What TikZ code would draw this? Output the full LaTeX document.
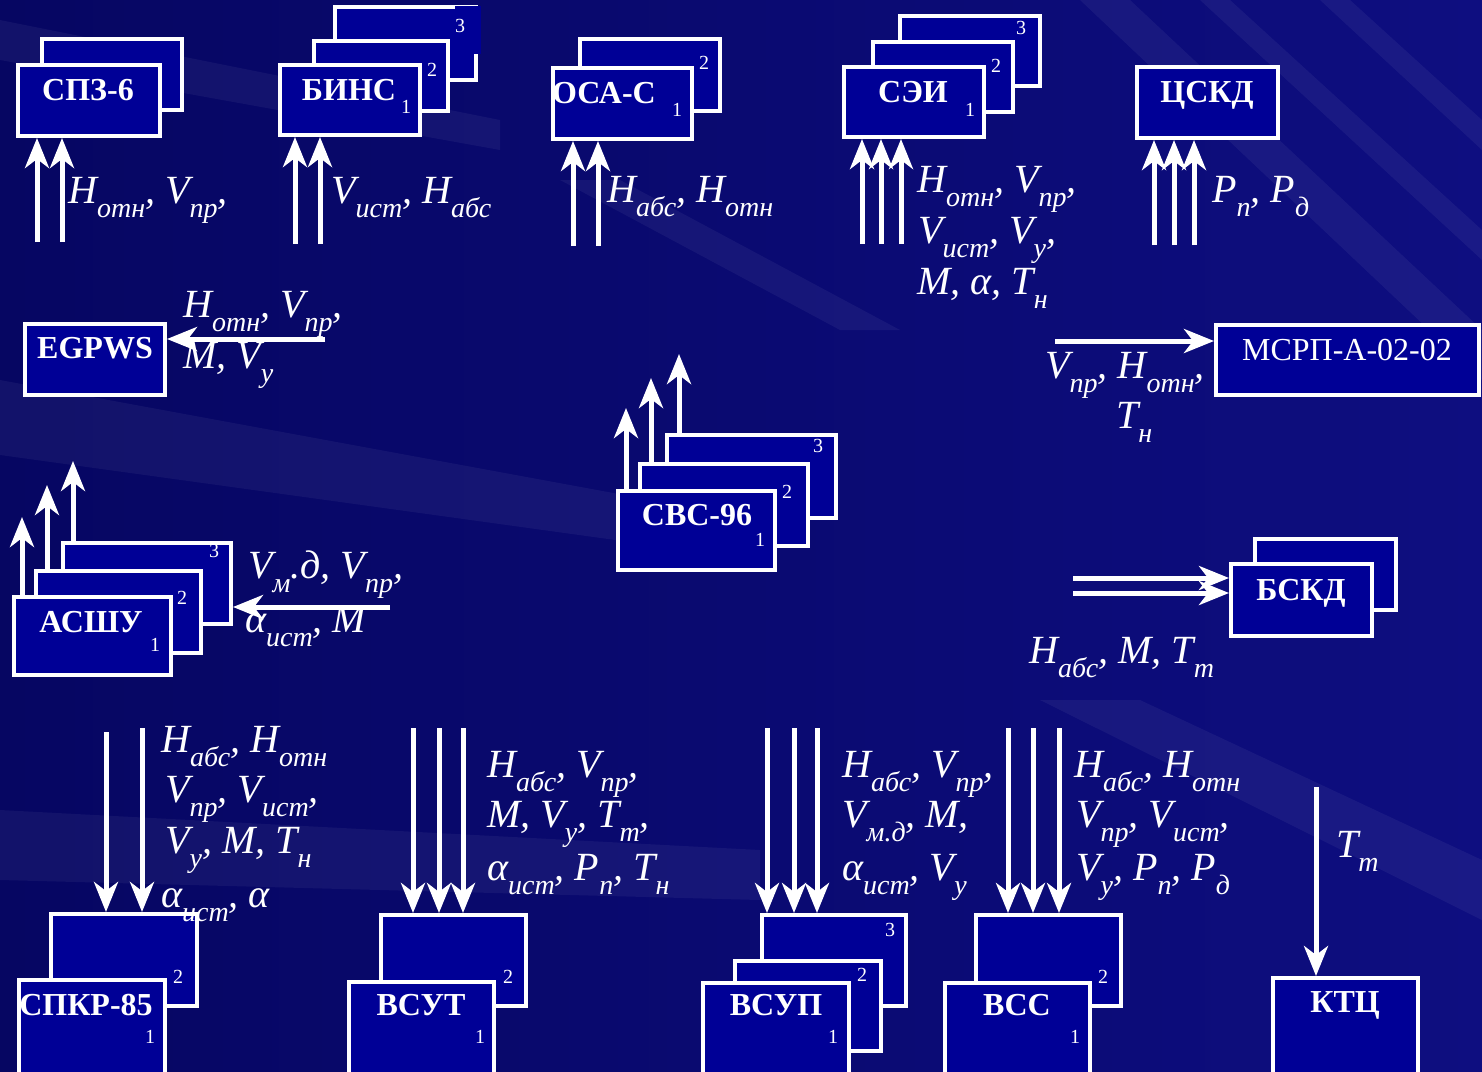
\documentclass[tikz,border=0pt]{standalone}
\usepackage{fontspec}
\setmainfont{Liberation Serif}
\usetikzlibrary{arrows.meta,calc}
\definecolor{bgA}{RGB}{6,6,98}
\definecolor{bgB}{RGB}{14,14,128}
\definecolor{boxc}{RGB}{0,0,150}
\newcommand\sbx[1]{\raisebox{-14pt}{\fontsize{28}{28}\selectfont #1}}
\newcommand\mkbox[5]{\node[bx, minimum width={#4-#2-4}, minimum height={#5-#3-4}] (#1) at ({(#2+#4)/2},{(#3+#5)/2}) {};}
\tikzset{
 bx/.style={draw=white, line width=4pt, fill=boxc, inner sep=0pt, outer sep=2pt},
 btxt/.style={text=white, font=\fontsize{32}{34}\selectfont\bfseries, anchor=base, inner sep=0pt},
 rtxt/.style={text=white, font=\fontsize{32}{34}\selectfont, anchor=base, inner sep=0pt},
 num/.style={text=white, font=\fontsize{20}{22}\selectfont, inner sep=0pt},
 lab/.style={text=white, font=\fontsize{40}{48}\selectfont\itshape, anchor=base west, inner sep=0pt},
 arr/.style={draw=white, line width=5pt, -{Stealth[length=30pt,width=24pt,inset=9pt]}},
 streak/.style={fill=white, fill opacity=0.05, draw=none},
}
\begin{document}
\begin{tikzpicture}[x=1pt,y=-1pt]
\useasboundingbox (0,0) rectangle (1482,1071);
% background
\shade[left color=bgA, right color=bgB] (0,0) rectangle (1482,1071);
\fill[streak] (0,380) -- (0,455) -- (760,560) -- (760,520) -- cycle;
\fill[streak] (0,810) -- (0,880) -- (760,900) -- (760,850) -- cycle;
\fill[streak] (1040,700) -- (1140,700) -- (1482,860) -- (1482,920) -- cycle;
\fill[streak] (1080,0) -- (1130,0) -- (1482,330) -- (1482,380) -- cycle;
\fill[streak] (1200,0) -- (1230,0) -- (1482,230) -- (1482,260) -- cycle;
\fill[streak] (1320,0) -- (1350,0) -- (1482,120) -- (1482,150) -- cycle;
\fill[streak] (560,180) -- (620,180) -- (900,330) -- (840,330) -- cycle;
\fill[streak] (0,20) -- (0,60) -- (500,150) -- (500,120) -- cycle;

% ---------- top row ----------
\mkbox{spz2}{40}{37}{184}{112}
\mkbox{spz1}{16}{63}{162}{138}
\node[btxt] (tspz) at (88,100) {СПЗ-6};

\mkbox{bins3}{333}{5}{478}{82}
\fill[boxc] (455,6) rectangle (481,54);
\mkbox{bins2}{312}{39}{450}{113}
\mkbox{bins1}{278}{63}{422}{137}
\node[btxt] (tbins) at (349,100) {БИНС};
\node[num] (nb1) at (406,107) {1};
\node[num] (nb2) at (432,70) {2};
\node[num] (nb3) at (460,26) {3};

\mkbox{osa2}{578}{37}{722}{113}
\mkbox{osa1}{551}{66}{694}{141}
\node[btxt] (tosa) at (604,103) {ОСА-С};
\node[num] (no1) at (677,110) {1};
\node[num] (no2) at (704,63) {2};

\mkbox{sei3}{898}{14}{1042}{88}
\mkbox{sei2}{871}{40}{1015}{114}
\mkbox{sei1}{842}{65}{986}{139}
\node[btxt] (tsei) at (913,102) {СЭИ};
\node[num] (ns1) at (970,110) {1};
\node[num] (ns2) at (996,66) {2};
\node[num] (ns3) at (1021,28) {3};

\mkbox{cskd}{1135}{65}{1280}{140}
\node[btxt] (tcskd) at (1207,102) {ЦСКД};

\foreach \x [count=\i] in {37,62} {\coordinate (spzin\i) at (\x,242); \draw[arr] (spzin\i) -- (spzin\i |- spz1.south);}
\foreach \x [count=\i] in {295,320} {\coordinate (binsin\i) at (\x,244); \draw[arr] (binsin\i) -- (binsin\i |- bins1.south);}
\foreach \x [count=\i] in {573,598} {\coordinate (osain\i) at (\x,246); \draw[arr] (osain\i) -- (osain\i |- osa1.south);}
\foreach \x [count=\i] in {862,881,901} {\coordinate (seiin\i) at (\x,244); \draw[arr] (seiin\i) -- (seiin\i |- sei1.south);}
\foreach \x [count=\i] in {1154,1174,1194} {\coordinate (cskdin\i) at (\x,245); \draw[arr] (cskdin\i) -- (cskdin\i |- cskd.south);}

\node[lab] (lspz) at (68,203) {H\sbx{отн}, V\sbx{пр},};
\node[lab] (lbins) at (331,203) {V\sbx{ист}, H\sbx{абс}};
\node[lab] (losa) at (607,202) {H\sbx{абс}, H\sbx{отн}};
\node[lab] (lsei1) at (917,192) {H\sbx{отн}, V\sbx{пр},};
\node[lab] (lsei2) at (918,243) {V\sbx{ист}, V\sbx{у},};
\node[lab] (lsei3) at (917,294) {M, α, T\sbx{н}};
\node[lab] (lcskd) at (1212,202) {P\sbx{п}, P\sbx{д}};

% ---------- EGPWS and MSRP ----------
\mkbox{egp}{23}{322}{167}{397}
\node[btxt] (tegp) at (95,358) {EGPWS};
\coordinate (egpin) at (325,339);
\node[lab] (legp1) at (183,317) {H\sbx{отн}, V\sbx{пр},};
\node[lab] (legp2) at (183,368) {M, V\sbx{у}};
\draw[arr] (egpin) -- (egpin -| egp.east);

\mkbox{msrp}{1214}{323}{1481}{397}
\node[rtxt] (tmsrp) at (1347,360) {МСРП-А-02-02};
\coordinate (msrpin) at (1055,341);
\draw[arr] (msrpin) -- (msrpin -| msrp.west);
\node[lab] (lmsrp1) at (1045,378) {V\sbx{пр}, H\sbx{отн},};
\node[lab] (lmsrp2) at (1116,428) {T\sbx{н}};

% ---------- ASShU ----------
\mkbox{ash3}{61}{541}{233}{626}
\mkbox{ash2}{34}{569}{203}{655}
\mkbox{ash1}{12}{595}{173}{677}
\node[btxt] (tash) at (91,632) {АСШУ};
\node[num] (na1) at (155,645) {1};
\node[num] (na2) at (182,598) {2};
\node[num] (na3) at (214,551) {3};
\coordinate (ashout1) at (22,517);
\coordinate (ashout2) at (47,485);
\coordinate (ashout3) at (73,461);
\draw[arr] (ashout1 |- ash1.north) -- (ashout1);
\draw[arr] (ashout2 |- ash2.north) -- (ashout2);
\draw[arr] (ashout3 |- ash3.north) -- (ashout3);
\coordinate (ashin) at (390,607);
\node[lab] (lash1) at (248,578) {V\sbx{м}.д, V\sbx{пр},};
\node[lab] (lash2) at (245,632) {α\sbx{ист}, M};
\draw[arr] (ashin) -- (ashin -| ash3.east);

% ---------- SVS-96 ----------
\mkbox{svs3}{665}{433}{838}{520}
\mkbox{svs2}{638}{462}{810}{548}
\mkbox{svs1}{616}{489}{777}{572}
\node[btxt] (tsvs) at (697,525) {СВС-96};
\node[num] (nv1) at (760,540) {1};
\node[num] (nv2) at (787,492) {2};
\node[num] (nv3) at (818,446) {3};
\coordinate (svsout1) at (626,408);
\coordinate (svsout2) at (651,378);
\coordinate (svsout3) at (679,354);
\draw[arr] (svsout1 |- svs1.north) -- (svsout1);
\draw[arr] (svsout2 |- svs2.north) -- (svsout2);
\draw[arr] (svsout3 |- svs3.north) -- (svsout3);

% ---------- BSKD ----------
\mkbox{bsk2}{1253}{537}{1398}{612}
\mkbox{bsk1}{1229}{562}{1374}{638}
\node[btxt] (tbsk) at (1301,600) {БСКД};
\coordinate (bskin1) at (1073,578);
\coordinate (bskin2) at (1073,593);
\draw[arr] (bskin1) -- (bskin1 -| bsk1.west);
\draw[arr] (bskin2) -- (bskin2 -| bsk1.west);
\node[lab] (lbsk) at (1029,663) {H\sbx{абс}, M, T\sbx{т}};

% ---------- bottom row ----------
\mkbox{spkr2}{49}{912}{199}{1008}
\mkbox{spkr1}{17}{978}{167}{1085}
\node[btxt] (tspkr) at (86,1015) {СПКР-85};
\node[num] (nk1) at (150,1037) {1};
\node[num] (nk2) at (178,977) {2};

\mkbox{vsut2}{379}{913}{528}{1008}
\mkbox{vsut1}{347}{980}{496}{1085}
\node[btxt] (tvsut) at (421,1015) {ВСУТ};
\node[num] (nt1) at (480,1037) {1};
\node[num] (nt2) at (508,977) {2};

\mkbox{vsup3}{760}{913}{908}{1008}
\mkbox{vsup2}{733}{959}{883}{1053}
\mkbox{vsup1}{701}{981}{851}{1085}
\node[btxt] (tvsup) at (776,1015) {ВСУП};
\node[num] (np1) at (833,1037) {1};
\node[num] (np2) at (862,975) {2};
\node[num] (np3) at (890,930) {3};

\mkbox{vss2}{974}{913}{1123}{1008}
\mkbox{vss1}{943}{981}{1092}{1085}
\node[btxt] (tvss) at (1017,1015) {ВСС};
\node[num] (nc1) at (1075,1037) {1};
\node[num] (nc2) at (1103,977) {2};

\mkbox{ktc}{1271}{976}{1420}{1085}
\node[btxt] (tktc) at (1345,1012) {КТЦ};

\foreach \x/\y [count=\i] in {106/732,142/728} {\coordinate (spkrin\i) at (\x,\y); \draw[arr] (spkrin\i) -- (spkrin\i |- spkr2.north);}
\foreach \x [count=\i] in {413,439,463} {\coordinate (vsutin\i) at (\x,728); \draw[arr] (vsutin\i) -- (vsutin\i |- vsut2.north);}
\foreach \x [count=\i] in {767,794,817} {\coordinate (vsupin\i) at (\x,728); \draw[arr] (vsupin\i) -- (vsupin\i |- vsup3.north);}
\foreach \x [count=\i] in {1008,1033,1059} {\coordinate (vssin\i) at (\x,728); \draw[arr] (vssin\i) -- (vssin\i |- vss2.north);}
\coordinate (ktcin) at (1316,787);
\draw[arr] (ktcin) -- (ktcin |- ktc.north);

\node[lab] (lspkr1) at (161,752) {H\sbx{абс}, H\sbx{отн}};
\node[lab] (lspkr2) at (165,802) {V\sbx{пр}, V\sbx{ист},};
\node[lab] (lspkr3) at (165,853) {V\sbx{у}, M, T\sbx{н}};
\node[lab] (lspkr4) at (161,907) {α\sbx{ист}, α};

\node[lab] (lvsut1) at (487,777) {H\sbx{абс}, V\sbx{пр},};
\node[lab] (lvsut2) at (487,827) {M, V\sbx{у}, T\sbx{т},};
\node[lab] (lvsut3) at (487,880) {α\sbx{ист}, P\sbx{п}, T\sbx{н}};

\node[lab] (lvsup1) at (842,777) {H\sbx{абс}, V\sbx{пр},};
\node[lab] (lvsup2) at (842,827) {V\sbx{м.д}, M,};
\node[lab] (lvsup3) at (842,880) {α\sbx{ист}, V\sbx{у}};

\node[lab] (lvss1) at (1074,777) {H\sbx{абс}, H\sbx{отн}};
\node[lab] (lvss2) at (1076,827) {V\sbx{пр}, V\sbx{ист},};
\node[lab] (lvss3) at (1076,880) {V\sbx{у}, P\sbx{п}, P\sbx{д}};

\node[lab] (lktc) at (1336,857) {T\sbx{т}};
\end{tikzpicture}
\end{document}
